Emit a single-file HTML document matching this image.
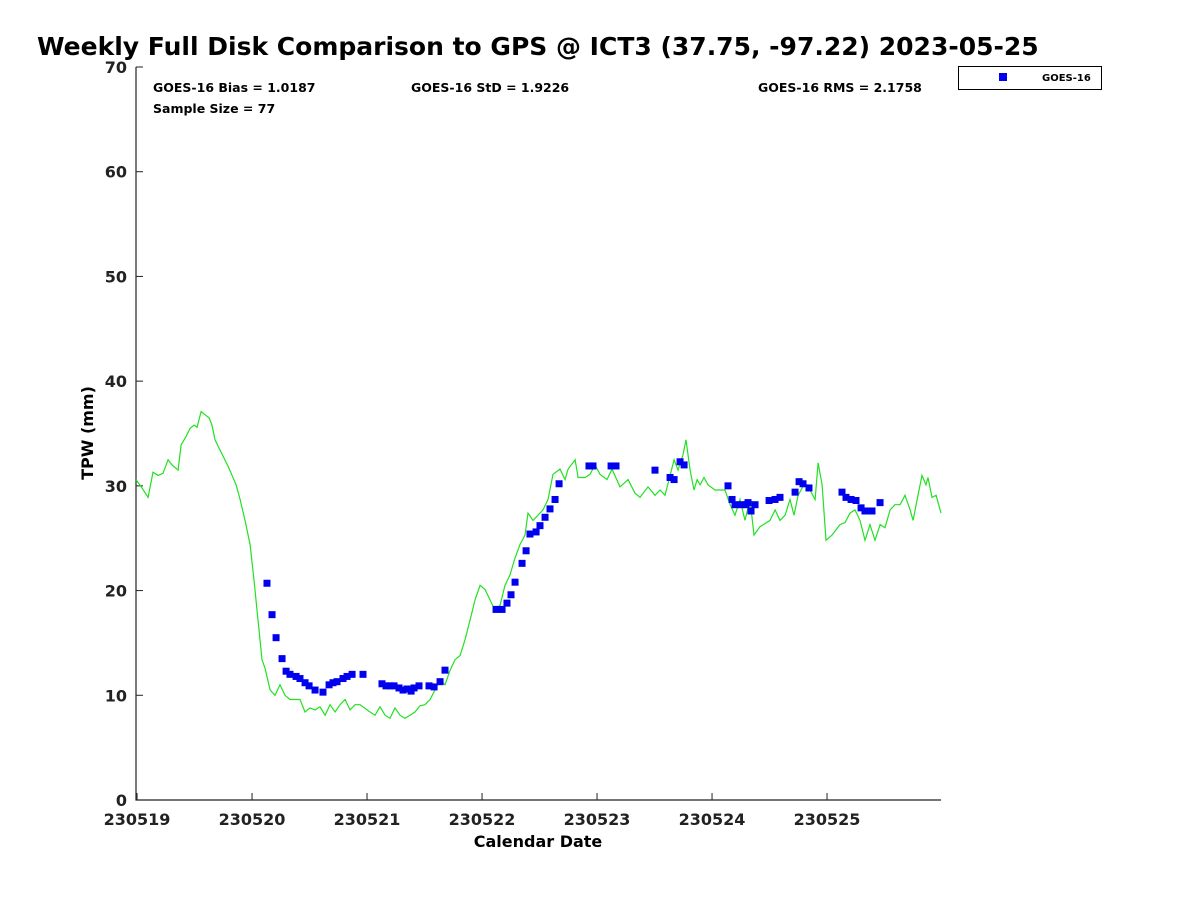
<!DOCTYPE html>
<html><head><meta charset="utf-8"><style>
body{margin:0;background:#fff;font-family:"Liberation Sans","DejaVu Sans",sans-serif}
svg text{font-family:"DejaVu Sans","Liberation Sans",sans-serif;font-weight:bold}
</style></head><body>
<svg id="chart" width="1200" height="900" viewBox="0 0 1200 900">
<text x="37" y="55" font-size="25">Weekly Full Disk Comparison to GPS @ ICT3 (37.75, -97.22) 2023-05-25</text>
<g id="axes"></g>
<text x="153" y="92" font-size="12.5">GOES-16 Bias = 1.0187</text>
<text x="411" y="92" font-size="12.5">GOES-16 StD = 1.9226</text>
<text x="758" y="92" font-size="12.5">GOES-16 RMS = 2.1758</text>
<text x="153" y="113" font-size="12.5">Sample Size = 77</text>
<text x="538" y="847" font-size="16" text-anchor="middle">Calendar Date</text>
<text transform="translate(93,433) rotate(-90)" font-size="16" text-anchor="middle">TPW (mm)</text>
<g>
<rect x="958.5" y="66.5" width="143" height="23" fill="#fff" stroke="#000" stroke-width="1"/>
<rect x="999" y="73" width="8" height="8" fill="#0000ee"/>
<text x="1042" y="81" font-size="10">GOES-16</text>
</g>
</svg>
<script>
const gpsDays=[-0.009,.043,.096,.139,.183,.226,.270,.304,.357,.383,.426,.461,.496,.522,.557,.591,.626,.652,.678,.722,.791,.861,.896,.939,.983,1.017,1.052,1.087,1.113,1.157,1.200,1.243,1.287,1.330,1.417,1.461,1.504,1.548,1.591,1.635,1.678,1.722,1.765,1.809,1.852,1.896,1.939,2.026,2.070,2.113,2.157,2.200,2.243,2.287,2.330,2.374,2.417,2.461,2.504,2.548,2.591,2.635,2.678,2.722,2.765,2.809,2.852,2.896,2.939,2.983,3.026,3.070,3.113,3.157,3.200,3.243,3.287,3.330,3.374,3.400,3.443,3.487,3.530,3.574,3.617,3.678,3.722,3.748,3.809,3.835,3.896,3.939,3.983,4.026,4.087,4.130,4.200,4.270,4.330,4.374,4.443,4.504,4.548,4.591,4.635,4.670,4.704,4.748,4.774,4.809,4.843,4.870,4.896,4.930,4.965,5.026,5.070,5.113,5.157,5.200,5.243,5.287,5.330,5.365,5.417,5.504,5.548,5.591,5.635,5.678,5.713,5.748,5.809,5.852,5.896,5.922,5.957,5.991,6.043,6.113,6.157,6.200,6.243,6.287,6.330,6.374,6.417,6.461,6.504,6.548,6.591,6.635,6.678,6.722,6.748,6.791,6.826,6.861,6.878,6.913,6.948,6.991];
const gpsValues=[30.6,29.8,28.9,31.3,31.0,31.2,32.5,32.0,31.5,33.9,34.7,35.5,35.8,35.6,37.1,36.8,36.5,35.8,34.4,33.4,31.9,30.1,28.7,26.7,24.4,21.0,17.2,13.4,12.6,10.5,10.0,11.0,10.0,9.6,9.6,8.4,8.8,8.6,8.9,8.1,9.1,8.4,9.1,9.6,8.6,9.1,9.1,8.4,8.1,8.9,8.1,7.8,8.8,8.1,7.8,8.1,8.4,9.0,9.1,9.6,10.5,11.5,11.0,12.4,13.4,13.8,15.3,17.2,19.1,20.5,20.1,19.1,18.1,18.6,20.5,21.5,23.1,24.4,25.3,27.4,26.7,27.2,27.7,28.7,31.1,31.6,30.6,31.6,32.5,30.8,30.8,31.1,32.0,31.1,30.6,31.6,29.9,30.6,29.3,28.9,29.9,29.1,29.6,29.1,31.0,32.5,31.5,33.0,34.4,31.5,29.6,30.6,30.1,30.8,30.1,29.6,29.6,29.6,28.2,27.2,28.7,26.7,28.7,25.3,26.1,26.7,27.7,26.7,27.2,28.7,27.2,29.1,30.3,29.6,28.7,32.2,30.1,24.8,25.3,26.3,26.5,27.4,27.7,26.7,24.8,26.3,24.8,26.3,26.0,27.7,28.2,28.2,29.1,27.7,26.7,29.1,31.0,30.1,30.8,28.9,29.1,27.4];
const goesDays=[1.130,1.174,1.209,1.261,1.296,1.330,1.383,1.417,1.461,1.496,1.548,1.617,1.670,1.704,1.739,1.791,1.826,1.870,1.965,2.130,2.165,2.200,2.235,2.278,2.313,2.348,2.383,2.409,2.452,2.539,2.583,2.635,2.678,3.122,3.174,3.217,3.252,3.287,3.348,3.383,3.417,3.470,3.504,3.548,3.591,3.635,3.670,3.930,3.965,4.122,4.165,4.504,4.635,4.670,4.722,4.757,5.139,5.174,5.200,5.252,5.296,5.313,5.339,5.374,5.496,5.548,5.591,5.722,5.757,5.791,5.843,6.130,6.165,6.209,6.252,6.296,6.330,6.391,6.461];
const goesValues=[20.7,17.7,15.5,13.5,12.3,12.0,11.8,11.6,11.2,10.9,10.5,10.3,11.0,11.2,11.3,11.6,11.8,12.0,12.0,11.1,10.9,10.9,10.9,10.7,10.5,10.6,10.4,10.7,10.9,10.9,10.8,11.3,12.4,18.2,18.2,18.8,19.6,20.8,22.6,23.8,25.4,25.6,26.2,27.0,27.8,28.7,30.2,31.9,31.9,31.9,31.9,31.5,30.8,30.6,32.3,32.0,30.0,28.7,28.2,28.2,28.2,28.4,27.6,28.2,28.6,28.7,28.9,29.4,30.4,30.2,29.8,29.4,28.9,28.7,28.6,27.9,27.6,27.6,28.4];
const xTickLabels=["230519","230520","230521","230522","230523","230524","230525"];
const yTickLabels=[0,10,20,30,40,50,60,70];
const X0=136,X1=941,Y0=800,Y1=67,DMIN=-0.009,DMAX=6.991;
const xs=d=>X0+(d-DMIN)/(DMAX-DMIN)*(X1-X0);
const ys=v=>Y0-(v/70)*(Y0-Y1);
const NS="http://www.w3.org/2000/svg";
const svg=document.getElementById('chart');
const axes=document.getElementById('axes');
function mk(tag,attrs,parent){const e=document.createElementNS(NS,tag);for(const k in attrs)e.setAttribute(k,attrs[k]);(parent||svg).appendChild(e);return e;}
const frame=mk('path',{d:`M${X0},${Y1}V${Y0}H${X1}`,fill:'none',stroke:'#222','stroke-width':1.2},axes);


yTickLabels.forEach(v=>{
 const t=mk('line',{x1:X0,x2:X0+7,y1:ys(v),y2:ys(v),stroke:'#222'},axes);
 
 
 const l=mk('text',{x:X0-9,y:ys(v)+6,'font-size':16,'text-anchor':'end',fill:'#222'},axes);
 
 
 l.textContent=v;
});
xTickLabels.forEach((s,i)=>{
 const t=mk('line',{x1:xs(i),x2:xs(i),y1:Y0,y2:Y0-7,stroke:'#222'},axes);
 
 
 const l=mk('text',{x:xs(i),y:Y0+25,'font-size':16,'text-anchor':'middle',fill:'#222'},axes);
 
 
 l.textContent=s;
});
const line=mk('polyline',{points:gpsDays.map((d,i)=>xs(d).toFixed(1)+','+ys(gpsValues[i]).toFixed(1)).join(' '),fill:'none',stroke:'#22e022','stroke-width':1.2});


goesDays.forEach((d,i)=>{
 const r=mk('rect',{x:xs(d)-3.5,y:ys(goesValues[i])-3.5,width:7,height:7,fill:'#0000ee'});
 
 
});
</script>
</body></html>
